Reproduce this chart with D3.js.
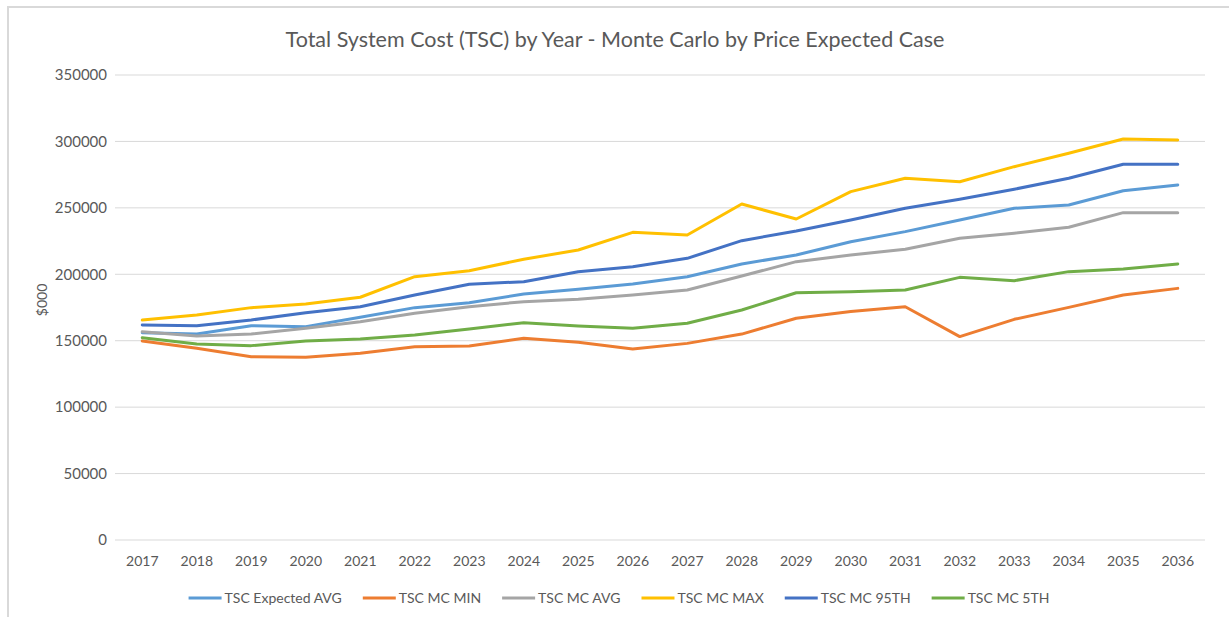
<!DOCTYPE html>
<html>
<head>
<meta charset="utf-8">
<script src="https://cdn.jsdelivr.net/npm/d3@7"></script>
<style>
  body { margin: 0; background: #fff; }
  svg text { font-family: Lato, "Open Sans", sans-serif; fill: #595959; }
</style>
</head>
<body>
<div id="chart"></div>
<script>
var years = ['2017','2018','2019','2020','2021','2022','2023','2024','2025','2026',
             '2027','2028','2029','2030','2031','2032','2033','2034','2035','2036'];
var yTicks = [0, 50000, 100000, 150000, 200000, 250000, 300000, 350000];

var expectedAvg = [156000,155000,161300,160600,167600,174900,178600,185200,188700,192700,
                   198200,207800,214500,224500,232100,240900,249700,252200,262900,267200];
var mcMin = [149800,144300,138000,137500,140500,145500,146000,151800,148800,143800,
             148000,155000,166900,172000,175600,153100,166100,175100,184400,189400];
var mcAvg = [156800,153600,155100,159300,164300,170600,175600,179400,181200,184400,
             188200,198700,209500,214500,218800,227100,230900,235400,246400,246400];
var mcMax = [165600,169400,174900,177600,182700,198200,202700,211300,218300,231600,
             229600,252900,241600,262200,272300,269700,281000,291100,301800,301100];
var mc95 = [161800,161300,165600,171100,175600,184400,192500,194400,201900,205700,
            212000,225300,232600,240900,249700,256400,264000,272300,282800,282800];
var mc5 = [152300,147500,146300,149800,151300,154300,158800,163600,161100,159300,
           163100,173100,186100,186900,188200,197700,195200,202000,204000,207800];

var seriesNames = ['TSC Expected AVG','TSC MC MIN','TSC MC AVG','TSC MC MAX','TSC MC 95TH','TSC MC 5TH'];
var seriesColors = ['#5B9BD5','#ED7D31','#A5A5A5','#FFC000','#4472C4','#70AD47'];
var seriesValues = [expectedAvg, mcMin, mcAvg, mcMax, mc95, mc5];

var width = 1229, height = 617;
var plotLeft = 115, plotRight = 1205, plotTop = 75, plotBottom = 540;

var svg = d3.select('#chart').append('svg').attr('width', width).attr('height', height);

// chart frame (only top and left edges show in the screenshot)
svg.append('path')
   .attr('d', 'M8,' + height + 'V7H' + width)
   .attr('fill', 'none').attr('stroke', '#d9d9d9').attr('stroke-width', 2);

var x = d3.scaleBand().domain(years).range([plotLeft, plotRight]);
var y = d3.scaleLinear().domain([0, 350000]).range([plotBottom, plotTop]);

// gridlines
svg.append('g').selectAll('line')
   .data(yTicks)
   .enter()
   .append('line')
   .attr('x1', plotLeft).attr('x2', plotRight)
   .attr('y1', function(d) { return y(d); })
   .attr('y2', function(d) { return y(d); })
   .attr('stroke', '#d9d9d9').attr('stroke-width', 1);

// y axis labels
var yAxis = svg.append('g')
   .attr('transform', 'translate(' + (plotLeft - 8) + ',0)')
   .call(d3.axisLeft(y).tickValues(yTicks).tickSize(0).tickPadding(0).tickFormat(d3.format('d')));
yAxis.select('.domain').remove();
yAxis.selectAll('text').attr('font-size', 15).attr('fill', '#595959')
     .style('font-family', 'Lato, sans-serif');

// x axis labels
var xAxis = svg.append('g')
   .attr('transform', 'translate(0,' + (plotBottom + 10) + ')')
   .call(d3.axisBottom(x).tickSize(0).tickPadding(6));
xAxis.select('.domain').remove();
xAxis.selectAll('text').attr('font-size', 14).attr('fill', '#595959')
     .style('font-family', 'Lato, sans-serif');

// lines
var line = d3.line()
   .x(function(d, i) { return x(years[i]) + x.bandwidth() / 2; })
   .y(function(d) { return y(d); });

svg.append('g').selectAll('path')
   .data(seriesValues)
   .enter()
   .append('path')
   .attr('d', line)
   .attr('fill', 'none')
   .attr('stroke', function(d, i) { return seriesColors[i]; })
   .attr('stroke-width', 3)
   .attr('stroke-linejoin', 'round')
   .attr('stroke-linecap', 'round');

// title
svg.append('text')
   .attr('x', 615).attr('y', 47)
   .attr('text-anchor', 'middle')
   .attr('font-size', 21.5)
   .text('Total System Cost (TSC) by Year - Monte Carlo by Price Expected Case');

// y axis title
svg.append('text')
   .attr('transform', 'translate(47,300) rotate(-90)')
   .attr('text-anchor', 'middle')
   .attr('font-size', 14)
   .text('$000');

// legend
var legend = svg.append('g');
var items = legend.selectAll('g')
   .data(seriesNames)
   .enter()
   .append('g');
items.append('line')
   .attr('x1', 0).attr('x2', 33).attr('y1', 0).attr('y2', 0)
   .attr('stroke', function(d, i) { return seriesColors[i]; })
   .attr('stroke-width', 3);
items.append('text')
   .attr('x', 36).attr('y', 5)
   .attr('font-size', 14)
   .text(function(d) { return d; });

var offset = 0;
items.each(function() {
   var w = this.getBBox().width;
   d3.select(this).attr('data-off', offset);
   offset += w + 21;
});
var totalW = offset - 21;
var startX = 619 - totalW / 2;
items.attr('transform', function() {
   return 'translate(' + (startX + (+this.getAttribute('data-off'))) + ',598)';
});
</script>
</body>
</html>
